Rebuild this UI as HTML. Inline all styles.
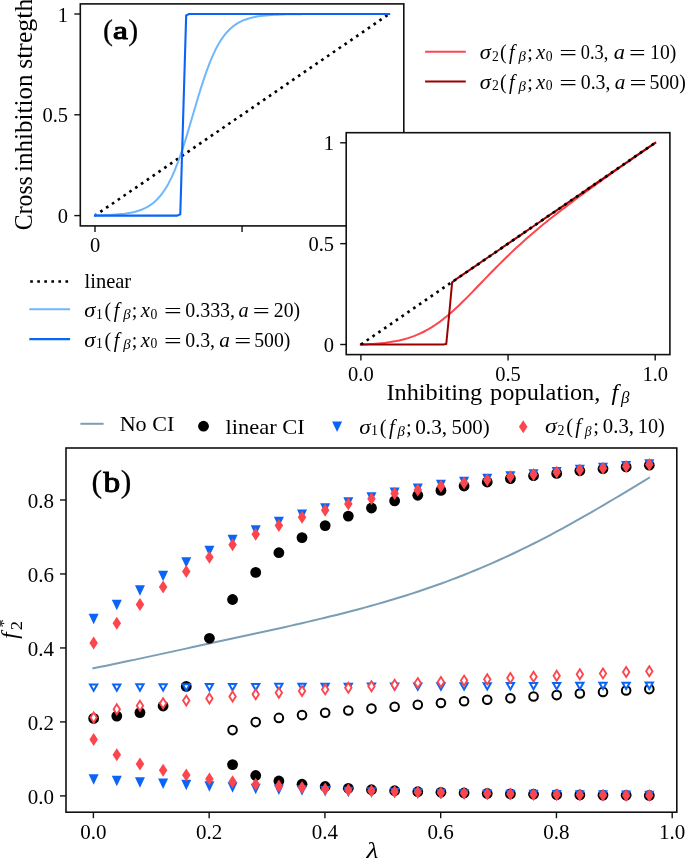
<!DOCTYPE html>
<html><head><meta charset="utf-8"><style>
html,body{margin:0;padding:0;background:#fff;overflow:hidden}
svg{display:block;will-change:transform}
text{font-family:"Liberation Serif", serif;fill:#000;font-kerning:none}
</style></head><body>
<svg width="685" height="858" viewBox="0 0 685 858">
<rect width="685" height="858" fill="#fff"/>
<polyline points="95.00,215.60 389.10,14.00" fill="none" stroke="#000" stroke-dashoffset="0.6" stroke-width="2.66" stroke-dasharray="2.66 4.39"/>
<polyline points="95.00,215.34 97.94,215.29 100.88,215.22 103.82,215.13 106.76,215.03 109.70,214.90 112.65,214.75 115.59,214.56 118.53,214.33 121.47,214.05 124.41,213.71 127.35,213.30 130.29,212.79 133.23,212.18 136.17,211.44 139.12,210.54 142.06,209.46 145.00,208.15 147.94,206.57 150.88,204.68 153.82,202.42 156.76,199.73 159.70,196.55 162.64,192.81 165.58,188.44 168.53,183.39 171.47,177.60 174.41,171.05 177.35,163.73 180.29,155.66 183.23,146.91 186.17,137.58 189.11,127.83 192.05,117.82 194.99,107.76 197.94,97.83 200.88,88.23 203.82,79.12 206.76,70.63 209.70,62.85 212.64,55.83 215.58,49.59 218.52,44.10 221.46,39.33 224.40,35.22 227.35,31.71 230.29,28.74 233.23,26.23 236.17,24.12 239.11,22.36 242.05,20.90 244.99,19.68 247.93,18.68 250.87,17.85 253.81,17.16 256.75,16.59 259.70,16.13 262.64,15.75 265.58,15.43 268.52,15.17 271.46,14.96 274.40,14.79 277.34,14.65 280.28,14.53 283.22,14.43 286.17,14.36 289.11,14.29 292.05,14.24 294.99,14.20 297.93,14.16 300.87,14.13 303.81,14.11 306.75,14.09 309.69,14.07 312.63,14.06 315.58,14.05 318.52,14.04 321.46,14.03 324.40,14.03 327.34,14.02 330.28,14.02 333.22,14.01 336.16,14.01 339.10,14.01 342.04,14.01 344.99,14.01 347.93,14.01 350.87,14.00 353.81,14.00 356.75,14.00 359.69,14.00 362.63,14.00 365.57,14.00 368.51,14.00 371.45,14.00 374.39,14.00 377.34,14.00 380.28,14.00 383.22,14.00 386.16,14.00 389.10,14.00" fill="none" stroke="#6fb6fc" stroke-width="2" stroke-linejoin="round" stroke-linecap="square"/>
<polyline points="95.00,215.60 97.94,215.60 100.88,215.60 103.82,215.60 106.76,215.60 109.70,215.60 112.65,215.60 115.59,215.60 118.53,215.60 121.47,215.60 124.41,215.60 127.35,215.60 130.29,215.60 133.23,215.60 136.17,215.60 139.12,215.60 142.06,215.60 145.00,215.60 147.94,215.60 150.88,215.60 153.82,215.60 156.76,215.60 159.70,215.60 162.64,215.60 165.58,215.60 168.53,215.60 171.47,215.60 174.41,215.60 177.35,215.59 180.29,214.25 183.23,114.80 186.17,15.35 189.11,14.01 192.05,14.00 194.99,14.00 197.94,14.00 200.88,14.00 203.82,14.00 206.76,14.00 209.70,14.00 212.64,14.00 215.58,14.00 218.52,14.00 221.46,14.00 224.40,14.00 227.35,14.00 230.29,14.00 233.23,14.00 236.17,14.00 239.11,14.00 242.05,14.00 244.99,14.00 247.93,14.00 250.87,14.00 253.81,14.00 256.75,14.00 259.70,14.00 262.64,14.00 265.58,14.00 268.52,14.00 271.46,14.00 274.40,14.00 277.34,14.00 280.28,14.00 283.22,14.00 286.17,14.00 289.11,14.00 292.05,14.00 294.99,14.00 297.93,14.00 300.87,14.00 303.81,14.00 306.75,14.00 309.69,14.00 312.63,14.00 315.58,14.00 318.52,14.00 321.46,14.00 324.40,14.00 327.34,14.00 330.28,14.00 333.22,14.00 336.16,14.00 339.10,14.00 342.04,14.00 344.99,14.00 347.93,14.00 350.87,14.00 353.81,14.00 356.75,14.00 359.69,14.00 362.63,14.00 365.57,14.00 368.51,14.00 371.45,14.00 374.39,14.00 377.34,14.00 380.28,14.00 383.22,14.00 386.16,14.00 389.10,14.00" fill="none" stroke="#0a64f5" stroke-width="2.1" stroke-linejoin="round" stroke-linecap="square"/>
<rect x="80.30" y="3.90" width="323.50" height="222.00" fill="none" stroke="#111" stroke-width="1.60"/>
<line x1="74.30" x2="80.30" y1="215.60" y2="215.60" stroke="#111" stroke-width="1.4"/>
<line x1="74.30" x2="80.30" y1="114.80" y2="114.80" stroke="#111" stroke-width="1.4"/>
<line x1="74.30" x2="80.30" y1="14.00" y2="14.00" stroke="#111" stroke-width="1.4"/>
<line x1="95.00" x2="95.00" y1="225.90" y2="231.90" stroke="#111" stroke-width="1.4"/>
<line x1="242.05" x2="242.05" y1="225.90" y2="231.90" stroke="#111" stroke-width="1.4"/>
<text x="68.00" y="223.20" text-anchor="end" font-size="20.50">0</text>
<text x="68.00" y="122.40" text-anchor="end" font-size="20.50">0.5</text>
<text x="68.00" y="21.60" text-anchor="end" font-size="20.50">1</text>
<text x="95.00" y="252.30" text-anchor="middle" font-size="20.50">0</text>
<text transform="translate(102.89,39.50) scale(1.0000,1)" font-size="29.90" stroke="#000" stroke-width="0.25">(</text>
<text transform="translate(113.03,39.30) scale(1.3366,1)" font-size="25.00" stroke="#000" stroke-width="1.0">a</text>
<text transform="translate(128.24,39.50) scale(1.0000,1)" font-size="29.90" stroke="#000" stroke-width="0.25">)</text>
<text transform="translate(31.80,230.17) rotate(-90) scale(0.9486,1)" font-size="25.00">Cross</text>
<text transform="translate(31.80,171.93) rotate(-90) scale(1.0028,1)" font-size="25.00">inhibition</text>
<text transform="translate(31.80,68.86) rotate(-90) scale(1.0317,1)" font-size="25.00">stregth</text>
<line x1="29.3" x2="70.1" y1="281.5" y2="281.5" stroke="#000" stroke-dashoffset="-0.9" stroke-width="2.66" stroke-dasharray="2.66 4.39"/>
<line x1="29.3" x2="70.1" y1="309.3" y2="309.3" stroke="#6fb6fc" stroke-width="2"/>
<line x1="29.3" x2="70.1" y1="339.1" y2="339.1" stroke="#0a64f5" stroke-width="2.1"/>
<text transform="translate(84.49,288.40) scale(1.0104,1)" font-size="20.30">linear</text>
<text transform="translate(84.23,316.90) scale(1.1209,1)" font-size="20.00" font-style="italic">σ</text>
<text transform="translate(96.00,318.50) scale(1.0000,1)" font-size="13.60">1</text>
<text transform="translate(104.52,316.90) scale(1.0000,1)" font-size="20.00">(</text>
<text transform="translate(113.71,316.90) scale(1.0000,1)" font-size="20.00" font-style="italic">f</text>
<text transform="translate(123.14,319.30) scale(1.0900,1)" font-size="13.60" font-style="italic">β</text>
<text transform="translate(131.76,316.90) scale(1.0000,1)" font-size="20.00">;</text>
<text transform="translate(140.65,316.90) scale(1.0363,1)" font-size="20.00" font-style="italic">x</text>
<text transform="translate(150.38,318.50) scale(1.0000,1)" font-size="13.60">0</text>
<text transform="translate(163.94,317.90) scale(1.5688,1)" font-size="20.00">=</text>
<text transform="translate(185.24,316.90) scale(0.9963,1)" font-size="20.00">0.333,</text>
<text transform="translate(238.49,316.90) scale(1.0171,1)" font-size="20.00" font-style="italic">a</text>
<text transform="translate(252.80,317.90) scale(1.5043,1)" font-size="20.00">=</text>
<text transform="translate(273.84,316.90) scale(0.9838,1)" font-size="20.00">20)</text>
<text transform="translate(84.23,346.60) scale(1.1209,1)" font-size="20.00" font-style="italic">σ</text>
<text transform="translate(96.00,348.20) scale(1.0000,1)" font-size="13.60">1</text>
<text transform="translate(104.52,346.60) scale(1.0000,1)" font-size="20.00">(</text>
<text transform="translate(113.71,346.60) scale(1.0000,1)" font-size="20.00" font-style="italic">f</text>
<text transform="translate(123.14,349.00) scale(1.0900,1)" font-size="13.60" font-style="italic">β</text>
<text transform="translate(131.76,346.60) scale(1.0000,1)" font-size="20.00">;</text>
<text transform="translate(140.65,346.60) scale(1.0363,1)" font-size="20.00" font-style="italic">x</text>
<text transform="translate(150.38,348.20) scale(1.0000,1)" font-size="13.60">0</text>
<text transform="translate(163.94,347.60) scale(1.5688,1)" font-size="20.00">=</text>
<text transform="translate(185.35,346.60) scale(0.9900,1)" font-size="20.00">0.3,</text>
<text transform="translate(219.27,346.60) scale(1.0633,1)" font-size="20.00" font-style="italic">a</text>
<text transform="translate(234.20,347.60) scale(1.5043,1)" font-size="20.00">=</text>
<text transform="translate(254.15,346.60) scale(0.9879,1)" font-size="20.00">500)</text>
<line x1="425.1" x2="465.8" y1="51.8" y2="51.8" stroke="#fc464e" stroke-width="2"/>
<line x1="425.1" x2="465.8" y1="81.5" y2="81.5" stroke="#9b0000" stroke-width="2"/>
<text transform="translate(479.63,58.90) scale(1.1209,1)" font-size="20.00" font-style="italic">σ</text>
<text transform="translate(492.00,60.50) scale(1.0000,1)" font-size="13.60">2</text>
<text transform="translate(499.92,58.90) scale(1.0000,1)" font-size="20.00">(</text>
<text transform="translate(509.11,58.90) scale(1.0000,1)" font-size="20.00" font-style="italic">f</text>
<text transform="translate(518.54,61.30) scale(1.0900,1)" font-size="13.60" font-style="italic">β</text>
<text transform="translate(527.16,58.90) scale(1.0000,1)" font-size="20.00">;</text>
<text transform="translate(536.05,58.90) scale(1.0363,1)" font-size="20.00" font-style="italic">x</text>
<text transform="translate(545.78,60.50) scale(1.0000,1)" font-size="13.60">0</text>
<text transform="translate(559.34,59.90) scale(1.5688,1)" font-size="20.00">=</text>
<text transform="translate(580.70,58.90) scale(0.9186,1)" font-size="20.00">0.3,</text>
<text transform="translate(613.63,58.90) scale(1.1211,1)" font-size="20.00" font-style="italic">a</text>
<text transform="translate(628.93,59.90) scale(1.4721,1)" font-size="20.00">=</text>
<text transform="translate(650.07,58.90) scale(0.9824,1)" font-size="20.00">10)</text>
<text transform="translate(479.63,88.60) scale(1.1209,1)" font-size="20.00" font-style="italic">σ</text>
<text transform="translate(492.00,90.20) scale(1.0000,1)" font-size="13.60">2</text>
<text transform="translate(499.92,88.60) scale(1.0000,1)" font-size="20.00">(</text>
<text transform="translate(509.11,88.60) scale(1.0000,1)" font-size="20.00" font-style="italic">f</text>
<text transform="translate(518.54,91.00) scale(1.0900,1)" font-size="13.60" font-style="italic">β</text>
<text transform="translate(527.16,88.60) scale(1.0000,1)" font-size="20.00">;</text>
<text transform="translate(536.05,88.60) scale(1.0363,1)" font-size="20.00" font-style="italic">x</text>
<text transform="translate(545.78,90.20) scale(1.0000,1)" font-size="13.60">0</text>
<text transform="translate(559.34,89.60) scale(1.5688,1)" font-size="20.00">=</text>
<text transform="translate(580.75,88.60) scale(0.9900,1)" font-size="20.00">0.3,</text>
<text transform="translate(614.67,88.60) scale(1.0633,1)" font-size="20.00" font-style="italic">a</text>
<text transform="translate(629.60,89.60) scale(1.5043,1)" font-size="20.00">=</text>
<text transform="translate(649.55,88.60) scale(0.9879,1)" font-size="20.00">500)</text>
<rect x="346.20" y="132.70" width="323.70" height="221.90" fill="#fff" stroke="none"/>
<polyline points="360.90,344.50 363.84,344.39 366.79,344.27 369.73,344.12 372.67,343.94 375.61,343.73 378.56,343.49 381.50,343.21 384.44,342.89 387.39,342.52 390.33,342.10 393.27,341.61 396.22,341.07 399.16,340.45 402.10,339.76 405.04,338.98 407.99,338.12 410.93,337.16 413.87,336.10 416.82,334.93 419.76,333.65 422.70,332.26 425.65,330.74 428.59,329.11 431.53,327.35 434.47,325.46 437.42,323.45 440.36,321.32 443.30,319.08 446.25,316.71 449.19,314.25 452.13,311.67 455.08,309.01 458.02,306.26 460.96,303.44 463.90,300.56 466.85,297.62 469.79,294.63 472.73,291.62 475.68,288.57 478.62,285.52 481.56,282.46 484.51,279.40 487.45,276.34 490.39,273.31 493.33,270.29 496.28,267.30 499.22,264.34 502.16,261.42 505.11,258.53 508.05,255.67 510.99,252.86 513.94,250.08 516.88,247.34 519.82,244.64 522.76,241.98 525.71,239.36 528.65,236.77 531.59,234.22 534.54,231.70 537.48,229.22 540.42,226.77 543.37,224.34 546.31,221.95 549.25,219.58 552.19,217.24 555.14,214.92 558.08,212.62 561.02,210.35 563.97,208.09 566.91,205.85 569.85,203.63 572.80,201.42 575.74,199.23 578.68,197.05 581.62,194.89 584.57,192.73 587.51,190.59 590.45,188.46 593.40,186.33 596.34,184.22 599.28,182.11 602.23,180.01 605.17,177.92 608.11,175.83 611.05,173.75 614.00,171.68 616.94,169.61 619.88,167.54 622.83,165.48 625.77,163.42 628.71,161.36 631.66,159.31 634.60,157.26 637.54,155.22 640.48,153.17 643.43,151.13 646.37,149.09 649.31,147.05 652.26,145.02 655.20,142.98" fill="none" stroke="#fc464e" stroke-width="2" stroke-linejoin="round" stroke-linecap="square"/>
<polyline points="360.90,344.50 363.84,344.50 366.79,344.50 369.73,344.50 372.67,344.50 375.61,344.50 378.56,344.50 381.50,344.50 384.44,344.50 387.39,344.50 390.33,344.50 393.27,344.50 396.22,344.50 399.16,344.50 402.10,344.50 405.04,344.50 407.99,344.50 410.93,344.50 413.87,344.50 416.82,344.50 419.76,344.50 422.70,344.50 425.65,344.50 428.59,344.50 431.53,344.50 434.47,344.50 437.42,344.50 440.36,344.50 443.30,344.50 446.25,344.11 449.19,314.25 452.13,282.39 455.08,279.96 458.02,277.94 460.96,275.92 463.90,273.91 466.85,271.89 469.79,269.87 472.73,267.85 475.68,265.84 478.62,263.82 481.56,261.80 484.51,259.79 487.45,257.77 490.39,255.75 493.33,253.74 496.28,251.72 499.22,249.70 502.16,247.68 505.11,245.67 508.05,243.65 510.99,241.63 513.94,239.62 516.88,237.60 519.82,235.58 522.76,233.56 525.71,231.55 528.65,229.53 531.59,227.51 534.54,225.50 537.48,223.48 540.42,221.46 543.37,219.45 546.31,217.43 549.25,215.41 552.19,213.40 555.14,211.38 558.08,209.36 561.02,207.34 563.97,205.33 566.91,203.31 569.85,201.29 572.80,199.28 575.74,197.26 578.68,195.24 581.62,193.23 584.57,191.21 587.51,189.19 590.45,187.17 593.40,185.16 596.34,183.14 599.28,181.12 602.23,179.11 605.17,177.09 608.11,175.07 611.05,173.06 614.00,171.04 616.94,169.02 619.88,167.00 622.83,164.99 625.77,162.97 628.71,160.95 631.66,158.94 634.60,156.92 637.54,154.90 640.48,152.89 643.43,150.87 646.37,148.85 649.31,146.83 652.26,144.82 655.20,142.80" fill="none" stroke="#9b0000" stroke-width="2" stroke-linejoin="round" stroke-linecap="square"/>
<polyline points="360.90,344.50 655.20,142.80" fill="none" stroke="#000" stroke-width="2.66" stroke-dasharray="2.66 4.39"/>
<rect x="346.20" y="132.70" width="323.70" height="221.90" fill="none" stroke="#111" stroke-width="1.60"/>
<line x1="340.20" x2="346.20" y1="344.50" y2="344.50" stroke="#111" stroke-width="1.4"/>
<text x="334.00" y="352.10" text-anchor="end" font-size="20.50">0</text>
<line x1="340.20" x2="346.20" y1="243.65" y2="243.65" stroke="#111" stroke-width="1.4"/>
<text x="334.00" y="251.25" text-anchor="end" font-size="20.50">0.5</text>
<line x1="340.20" x2="346.20" y1="142.80" y2="142.80" stroke="#111" stroke-width="1.4"/>
<text x="334.00" y="150.40" text-anchor="end" font-size="20.50">1</text>
<line x1="360.90" x2="360.90" y1="354.60" y2="360.60" stroke="#111" stroke-width="1.4"/>
<text x="360.90" y="381.00" text-anchor="middle" font-size="20.50">0.0</text>
<line x1="508.05" x2="508.05" y1="354.60" y2="360.60" stroke="#111" stroke-width="1.4"/>
<text x="508.05" y="381.00" text-anchor="middle" font-size="20.50">0.5</text>
<line x1="655.20" x2="655.20" y1="354.60" y2="360.60" stroke="#111" stroke-width="1.4"/>
<text x="655.20" y="381.00" text-anchor="middle" font-size="20.50">1.0</text>
<text transform="translate(386.42,400.00) scale(1.0082,1)" font-size="24.10">Inhibiting</text>
<text transform="translate(490.11,400.00) scale(1.0112,1)" font-size="24.10">population,</text>
<text transform="translate(611.53,400.00) scale(1.0000,1)" font-size="24.10" font-style="italic">f</text>
<text transform="translate(621.07,402.80) scale(1.0284,1)" font-size="16.50" font-style="italic">β</text>
<polyline points="93.40,668.25 99.19,667.10 104.98,665.93 110.76,664.74 116.55,663.54 122.34,662.33 128.13,661.10 133.92,659.87 139.70,658.63 145.49,657.39 151.28,656.14 157.07,654.88 162.86,653.63 168.64,652.38 174.43,651.12 180.22,649.86 186.01,648.61 191.80,647.35 197.58,646.10 203.37,644.85 209.16,643.59 214.95,642.34 220.74,641.09 226.52,639.84 232.31,638.59 238.10,637.34 243.89,636.08 249.68,634.82 255.46,633.56 261.25,632.30 267.04,631.03 272.83,629.75 278.62,628.46 284.40,627.17 290.19,625.86 295.98,624.55 301.77,623.22 307.56,621.88 313.34,620.52 319.13,619.15 324.92,617.75 330.71,616.34 336.50,614.91 342.28,613.45 348.07,611.97 353.86,610.46 359.65,608.92 365.44,607.36 371.22,605.76 377.01,604.14 382.80,602.48 388.59,600.78 394.38,599.05 400.16,597.28 405.95,595.47 411.74,593.62 417.53,591.73 423.32,589.79 429.10,587.81 434.89,585.79 440.68,583.72 446.47,581.60 452.26,579.43 458.04,577.22 463.83,574.95 469.62,572.64 475.41,570.27 481.20,567.85 486.98,565.38 492.77,562.86 498.56,560.28 504.35,557.66 510.14,554.98 515.92,552.25 521.71,549.46 527.50,546.63 533.29,543.74 539.08,540.81 544.86,537.83 550.65,534.79 556.44,531.72 562.23,528.59 568.02,525.43 573.80,522.22 579.59,518.97 585.38,515.68 591.17,512.35 596.96,509.00 602.74,505.61 608.53,502.19 614.32,498.75 620.11,495.28 625.90,491.80 631.68,488.30 637.47,484.80 643.26,481.28 649.05,477.76" fill="none" stroke="#7b9eb4" stroke-width="2" stroke-linejoin="round" stroke-linecap="square"/>
<circle cx="93.65" cy="718.40" r="5.4" fill="#000"/>
<circle cx="116.80" cy="716.10" r="5.4" fill="#000"/>
<circle cx="139.95" cy="712.60" r="5.4" fill="#000"/>
<circle cx="163.11" cy="706.00" r="5.4" fill="#000"/>
<circle cx="186.26" cy="686.40" r="5.4" fill="#000"/>
<circle cx="209.41" cy="638.30" r="5.4" fill="#000"/>
<circle cx="232.56" cy="599.50" r="5.4" fill="#000"/>
<circle cx="255.71" cy="572.40" r="5.4" fill="#000"/>
<circle cx="278.87" cy="552.70" r="5.4" fill="#000"/>
<circle cx="302.02" cy="537.60" r="5.4" fill="#000"/>
<circle cx="325.17" cy="525.60" r="5.4" fill="#000"/>
<circle cx="348.32" cy="516.10" r="5.4" fill="#000"/>
<circle cx="371.47" cy="508.00" r="5.4" fill="#000"/>
<circle cx="394.63" cy="500.90" r="5.4" fill="#000"/>
<circle cx="417.78" cy="495.30" r="5.4" fill="#000"/>
<circle cx="440.93" cy="490.40" r="5.4" fill="#000"/>
<circle cx="464.08" cy="486.00" r="5.4" fill="#000"/>
<circle cx="487.23" cy="482.00" r="5.4" fill="#000"/>
<circle cx="510.39" cy="478.60" r="5.4" fill="#000"/>
<circle cx="533.54" cy="475.70" r="5.4" fill="#000"/>
<circle cx="556.69" cy="473.40" r="5.4" fill="#000"/>
<circle cx="579.84" cy="470.80" r="5.4" fill="#000"/>
<circle cx="602.99" cy="468.70" r="5.4" fill="#000"/>
<circle cx="626.15" cy="466.90" r="5.4" fill="#000"/>
<circle cx="649.30" cy="465.20" r="5.4" fill="#000"/>
<circle cx="232.56" cy="764.60" r="5.4" fill="#000"/>
<circle cx="255.71" cy="775.50" r="5.4" fill="#000"/>
<circle cx="278.87" cy="781.00" r="5.4" fill="#000"/>
<circle cx="302.02" cy="784.20" r="5.4" fill="#000"/>
<circle cx="325.17" cy="786.50" r="5.4" fill="#000"/>
<circle cx="348.32" cy="788.30" r="5.4" fill="#000"/>
<circle cx="371.47" cy="789.70" r="5.4" fill="#000"/>
<circle cx="394.63" cy="790.70" r="5.4" fill="#000"/>
<circle cx="417.78" cy="791.70" r="5.4" fill="#000"/>
<circle cx="440.93" cy="792.30" r="5.4" fill="#000"/>
<circle cx="464.08" cy="793.00" r="5.4" fill="#000"/>
<circle cx="487.23" cy="793.50" r="5.4" fill="#000"/>
<circle cx="510.39" cy="793.90" r="5.4" fill="#000"/>
<circle cx="533.54" cy="794.20" r="5.4" fill="#000"/>
<circle cx="556.69" cy="794.60" r="5.4" fill="#000"/>
<circle cx="579.84" cy="794.90" r="5.4" fill="#000"/>
<circle cx="602.99" cy="795.10" r="5.4" fill="#000"/>
<circle cx="626.15" cy="795.30" r="5.4" fill="#000"/>
<circle cx="649.30" cy="795.50" r="5.4" fill="#000"/>
<circle cx="232.56" cy="730.10" r="4.3" fill="#fff" stroke="#000" stroke-width="2"/>
<circle cx="255.71" cy="722.10" r="4.3" fill="#fff" stroke="#000" stroke-width="2"/>
<circle cx="278.87" cy="717.90" r="4.3" fill="#fff" stroke="#000" stroke-width="2"/>
<circle cx="302.02" cy="715.10" r="4.3" fill="#fff" stroke="#000" stroke-width="2"/>
<circle cx="325.17" cy="712.80" r="4.3" fill="#fff" stroke="#000" stroke-width="2"/>
<circle cx="348.32" cy="710.50" r="4.3" fill="#fff" stroke="#000" stroke-width="2"/>
<circle cx="371.47" cy="708.60" r="4.3" fill="#fff" stroke="#000" stroke-width="2"/>
<circle cx="394.63" cy="706.70" r="4.3" fill="#fff" stroke="#000" stroke-width="2"/>
<circle cx="417.78" cy="704.80" r="4.3" fill="#fff" stroke="#000" stroke-width="2"/>
<circle cx="440.93" cy="703.00" r="4.3" fill="#fff" stroke="#000" stroke-width="2"/>
<circle cx="464.08" cy="701.30" r="4.3" fill="#fff" stroke="#000" stroke-width="2"/>
<circle cx="487.23" cy="699.70" r="4.3" fill="#fff" stroke="#000" stroke-width="2"/>
<circle cx="510.39" cy="698.20" r="4.3" fill="#fff" stroke="#000" stroke-width="2"/>
<circle cx="533.54" cy="696.50" r="4.3" fill="#fff" stroke="#000" stroke-width="2"/>
<circle cx="556.69" cy="695.10" r="4.3" fill="#fff" stroke="#000" stroke-width="2"/>
<circle cx="579.84" cy="693.50" r="4.3" fill="#fff" stroke="#000" stroke-width="2"/>
<circle cx="602.99" cy="691.90" r="4.3" fill="#fff" stroke="#000" stroke-width="2"/>
<circle cx="626.15" cy="690.50" r="4.3" fill="#fff" stroke="#000" stroke-width="2"/>
<circle cx="649.30" cy="689.10" r="4.3" fill="#fff" stroke="#000" stroke-width="2"/>
<polygon points="88.65,613.85 98.65,613.85 93.65,624.35" fill="#0a64f5"/>
<polygon points="111.80,599.65 121.80,599.65 116.80,610.15" fill="#0a64f5"/>
<polygon points="134.95,585.15 144.95,585.15 139.95,595.65" fill="#0a64f5"/>
<polygon points="158.11,570.65 168.11,570.65 163.11,581.15" fill="#0a64f5"/>
<polygon points="181.26,557.35 191.26,557.35 186.26,567.85" fill="#0a64f5"/>
<polygon points="204.41,545.65 214.41,545.65 209.41,556.15" fill="#0a64f5"/>
<polygon points="227.56,534.75 237.56,534.75 232.56,545.25" fill="#0a64f5"/>
<polygon points="250.71,525.25 260.71,525.25 255.71,535.75" fill="#0a64f5"/>
<polygon points="273.87,516.85 283.87,516.85 278.87,527.35" fill="#0a64f5"/>
<polygon points="297.02,509.45 307.02,509.45 302.02,519.95" fill="#0a64f5"/>
<polygon points="320.17,503.15 330.17,503.15 325.17,513.65" fill="#0a64f5"/>
<polygon points="343.32,497.25 353.32,497.25 348.32,507.75" fill="#0a64f5"/>
<polygon points="366.47,492.35 376.47,492.35 371.47,502.85" fill="#0a64f5"/>
<polygon points="389.63,487.45 399.63,487.45 394.63,497.95" fill="#0a64f5"/>
<polygon points="412.78,483.55 422.78,483.55 417.78,494.05" fill="#0a64f5"/>
<polygon points="435.93,479.75 445.93,479.75 440.93,490.25" fill="#0a64f5"/>
<polygon points="459.08,476.75 469.08,476.75 464.08,487.25" fill="#0a64f5"/>
<polygon points="482.23,473.75 492.23,473.75 487.23,484.25" fill="#0a64f5"/>
<polygon points="505.39,471.35 515.39,471.35 510.39,481.85" fill="#0a64f5"/>
<polygon points="528.54,469.35 538.54,469.35 533.54,479.85" fill="#0a64f5"/>
<polygon points="551.69,466.95 561.69,466.95 556.69,477.45" fill="#0a64f5"/>
<polygon points="574.84,464.65 584.84,464.65 579.84,475.15" fill="#0a64f5"/>
<polygon points="597.99,462.75 607.99,462.75 602.99,473.25" fill="#0a64f5"/>
<polygon points="621.15,460.95 631.15,460.95 626.15,471.45" fill="#0a64f5"/>
<polygon points="644.30,459.25 654.30,459.25 649.30,469.75" fill="#0a64f5"/>
<polygon points="88.65,774.15 98.65,774.15 93.65,784.65" fill="#0a64f5"/>
<polygon points="111.80,775.65 121.80,775.65 116.80,786.15" fill="#0a64f5"/>
<polygon points="134.95,777.15 144.95,777.15 139.95,787.65" fill="#0a64f5"/>
<polygon points="158.11,778.45 168.11,778.45 163.11,788.95" fill="#0a64f5"/>
<polygon points="181.26,779.85 191.26,779.85 186.26,790.35" fill="#0a64f5"/>
<polygon points="204.41,781.15 214.41,781.15 209.41,791.65" fill="#0a64f5"/>
<polygon points="227.56,782.25 237.56,782.25 232.56,792.75" fill="#0a64f5"/>
<polygon points="250.71,783.75 260.71,783.75 255.71,794.25" fill="#0a64f5"/>
<polygon points="273.87,784.55 283.87,784.55 278.87,795.05" fill="#0a64f5"/>
<polygon points="297.02,785.35 307.02,785.35 302.02,795.85" fill="#0a64f5"/>
<polygon points="320.17,786.05 330.17,786.05 325.17,796.55" fill="#0a64f5"/>
<polygon points="343.32,786.65 353.32,786.65 348.32,797.15" fill="#0a64f5"/>
<polygon points="366.47,787.25 376.47,787.25 371.47,797.75" fill="#0a64f5"/>
<polygon points="389.63,787.85 399.63,787.85 394.63,798.35" fill="#0a64f5"/>
<polygon points="412.78,788.35 422.78,788.35 417.78,798.85" fill="#0a64f5"/>
<polygon points="435.93,788.85 445.93,788.85 440.93,799.35" fill="#0a64f5"/>
<polygon points="459.08,789.15 469.08,789.15 464.08,799.65" fill="#0a64f5"/>
<polygon points="482.23,789.45 492.23,789.45 487.23,799.95" fill="#0a64f5"/>
<polygon points="505.39,789.65 515.39,789.65 510.39,800.15" fill="#0a64f5"/>
<polygon points="528.54,789.85 538.54,789.85 533.54,800.35" fill="#0a64f5"/>
<polygon points="551.69,789.95 561.69,789.95 556.69,800.45" fill="#0a64f5"/>
<polygon points="574.84,790.15 584.84,790.15 579.84,800.65" fill="#0a64f5"/>
<polygon points="597.99,790.35 607.99,790.35 602.99,800.85" fill="#0a64f5"/>
<polygon points="621.15,790.55 631.15,790.55 626.15,801.05" fill="#0a64f5"/>
<polygon points="644.30,790.65 654.30,790.65 649.30,801.15" fill="#0a64f5"/>
<polygon points="90.05,684.50 97.25,684.50 93.65,690.80" fill="#fff" stroke="#0a64f5" stroke-width="2" stroke-linejoin="miter"/>
<polygon points="113.20,684.42 120.40,684.42 116.80,690.72" fill="#fff" stroke="#0a64f5" stroke-width="2" stroke-linejoin="miter"/>
<polygon points="136.35,684.34 143.55,684.34 139.95,690.64" fill="#fff" stroke="#0a64f5" stroke-width="2" stroke-linejoin="miter"/>
<polygon points="159.51,684.26 166.71,684.26 163.11,690.56" fill="#fff" stroke="#0a64f5" stroke-width="2" stroke-linejoin="miter"/>
<polygon points="182.66,684.18 189.86,684.18 186.26,690.48" fill="#fff" stroke="#0a64f5" stroke-width="2" stroke-linejoin="miter"/>
<polygon points="205.81,684.10 213.01,684.10 209.41,690.40" fill="#fff" stroke="#0a64f5" stroke-width="2" stroke-linejoin="miter"/>
<polygon points="228.96,684.02 236.16,684.02 232.56,690.33" fill="#fff" stroke="#0a64f5" stroke-width="2" stroke-linejoin="miter"/>
<polygon points="252.11,683.95 259.31,683.95 255.71,690.25" fill="#fff" stroke="#0a64f5" stroke-width="2" stroke-linejoin="miter"/>
<polygon points="275.27,683.87 282.47,683.87 278.87,690.17" fill="#fff" stroke="#0a64f5" stroke-width="2" stroke-linejoin="miter"/>
<polygon points="298.42,683.79 305.62,683.79 302.02,690.09" fill="#fff" stroke="#0a64f5" stroke-width="2" stroke-linejoin="miter"/>
<polygon points="321.57,683.71 328.77,683.71 325.17,690.01" fill="#fff" stroke="#0a64f5" stroke-width="2" stroke-linejoin="miter"/>
<polygon points="344.72,683.63 351.92,683.63 348.32,689.93" fill="#fff" stroke="#0a64f5" stroke-width="2" stroke-linejoin="miter"/>
<polygon points="367.87,683.55 375.07,683.55 371.47,689.85" fill="#fff" stroke="#0a64f5" stroke-width="2" stroke-linejoin="miter"/>
<polygon points="391.03,683.47 398.23,683.47 394.63,689.77" fill="#fff" stroke="#0a64f5" stroke-width="2" stroke-linejoin="miter"/>
<polygon points="414.18,683.39 421.38,683.39 417.78,689.69" fill="#fff" stroke="#0a64f5" stroke-width="2" stroke-linejoin="miter"/>
<polygon points="437.33,683.31 444.53,683.31 440.93,689.61" fill="#fff" stroke="#0a64f5" stroke-width="2" stroke-linejoin="miter"/>
<polygon points="460.48,683.23 467.68,683.23 464.08,689.53" fill="#fff" stroke="#0a64f5" stroke-width="2" stroke-linejoin="miter"/>
<polygon points="483.63,683.15 490.83,683.15 487.23,689.45" fill="#fff" stroke="#0a64f5" stroke-width="2" stroke-linejoin="miter"/>
<polygon points="506.79,683.07 513.99,683.07 510.39,689.38" fill="#fff" stroke="#0a64f5" stroke-width="2" stroke-linejoin="miter"/>
<polygon points="529.94,683.00 537.14,683.00 533.54,689.30" fill="#fff" stroke="#0a64f5" stroke-width="2" stroke-linejoin="miter"/>
<polygon points="553.09,682.92 560.29,682.92 556.69,689.22" fill="#fff" stroke="#0a64f5" stroke-width="2" stroke-linejoin="miter"/>
<polygon points="576.24,682.84 583.44,682.84 579.84,689.14" fill="#fff" stroke="#0a64f5" stroke-width="2" stroke-linejoin="miter"/>
<polygon points="599.39,682.76 606.59,682.76 602.99,689.06" fill="#fff" stroke="#0a64f5" stroke-width="2" stroke-linejoin="miter"/>
<polygon points="622.55,682.68 629.75,682.68 626.15,688.98" fill="#fff" stroke="#0a64f5" stroke-width="2" stroke-linejoin="miter"/>
<polygon points="645.70,682.60 652.90,682.60 649.30,688.90" fill="#fff" stroke="#0a64f5" stroke-width="2" stroke-linejoin="miter"/>
<polygon points="93.65,636.60 97.90,643.10 93.65,649.60 89.40,643.10" fill="#fc464e"/>
<polygon points="116.80,616.70 121.05,623.20 116.80,629.70 112.55,623.20" fill="#fc464e"/>
<polygon points="139.95,598.00 144.20,604.50 139.95,611.00 135.70,604.50" fill="#fc464e"/>
<polygon points="163.11,580.50 167.36,587.00 163.11,593.50 158.86,587.00" fill="#fc464e"/>
<polygon points="186.26,565.00 190.51,571.50 186.26,578.00 182.01,571.50" fill="#fc464e"/>
<polygon points="209.41,550.70 213.66,557.20 209.41,563.70 205.16,557.20" fill="#fc464e"/>
<polygon points="232.56,538.30 236.81,544.80 232.56,551.30 228.31,544.80" fill="#fc464e"/>
<polygon points="255.71,527.80 259.96,534.30 255.71,540.80 251.46,534.30" fill="#fc464e"/>
<polygon points="278.87,519.10 283.12,525.60 278.87,532.10 274.62,525.60" fill="#fc464e"/>
<polygon points="302.02,510.70 306.27,517.20 302.02,523.70 297.77,517.20" fill="#fc464e"/>
<polygon points="325.17,503.70 329.42,510.20 325.17,516.70 320.92,510.20" fill="#fc464e"/>
<polygon points="348.32,497.40 352.57,503.90 348.32,510.40 344.07,503.90" fill="#fc464e"/>
<polygon points="371.47,492.30 375.72,498.80 371.47,505.30 367.22,498.80" fill="#fc464e"/>
<polygon points="394.63,486.90 398.88,493.40 394.63,499.90 390.38,493.40" fill="#fc464e"/>
<polygon points="417.78,483.40 422.03,489.90 417.78,496.40 413.53,489.90" fill="#fc464e"/>
<polygon points="440.93,479.70 445.18,486.20 440.93,492.70 436.68,486.20" fill="#fc464e"/>
<polygon points="464.08,476.40 468.33,482.90 464.08,489.40 459.83,482.90" fill="#fc464e"/>
<polygon points="487.23,473.40 491.48,479.90 487.23,486.40 482.98,479.90" fill="#fc464e"/>
<polygon points="510.39,470.30 514.64,476.80 510.39,483.30 506.14,476.80" fill="#fc464e"/>
<polygon points="533.54,468.10 537.79,474.60 533.54,481.10 529.29,474.60" fill="#fc464e"/>
<polygon points="556.69,465.70 560.94,472.20 556.69,478.70 552.44,472.20" fill="#fc464e"/>
<polygon points="579.84,463.40 584.09,469.90 579.84,476.40 575.59,469.90" fill="#fc464e"/>
<polygon points="602.99,461.80 607.24,468.30 602.99,474.80 598.74,468.30" fill="#fc464e"/>
<polygon points="626.15,459.90 630.40,466.40 626.15,472.90 621.90,466.40" fill="#fc464e"/>
<polygon points="649.30,458.00 653.55,464.50 649.30,471.00 645.05,464.50" fill="#fc464e"/>
<polygon points="93.65,732.90 97.90,739.40 93.65,745.90 89.40,739.40" fill="#fc464e"/>
<polygon points="116.80,748.30 121.05,754.80 116.80,761.30 112.55,754.80" fill="#fc464e"/>
<polygon points="139.95,757.50 144.20,764.00 139.95,770.50 135.70,764.00" fill="#fc464e"/>
<polygon points="163.11,763.80 167.36,770.30 163.11,776.80 158.86,770.30" fill="#fc464e"/>
<polygon points="186.26,768.40 190.51,774.90 186.26,781.40 182.01,774.90" fill="#fc464e"/>
<polygon points="209.41,772.60 213.66,779.10 209.41,785.60 205.16,779.10" fill="#fc464e"/>
<polygon points="232.56,775.30 236.81,781.80 232.56,788.30 228.31,781.80" fill="#fc464e"/>
<polygon points="255.71,777.70 259.96,784.20 255.71,790.70 251.46,784.20" fill="#fc464e"/>
<polygon points="278.87,779.50 283.12,786.00 278.87,792.50 274.62,786.00" fill="#fc464e"/>
<polygon points="302.02,780.90 306.27,787.40 302.02,793.90 297.77,787.40" fill="#fc464e"/>
<polygon points="325.17,782.40 329.42,788.90 325.17,795.40 320.92,788.90" fill="#fc464e"/>
<polygon points="348.32,783.50 352.57,790.00 348.32,796.50 344.07,790.00" fill="#fc464e"/>
<polygon points="371.47,784.50 375.72,791.00 371.47,797.50 367.22,791.00" fill="#fc464e"/>
<polygon points="394.63,785.30 398.88,791.80 394.63,798.30 390.38,791.80" fill="#fc464e"/>
<polygon points="417.78,785.80 422.03,792.30 417.78,798.80 413.53,792.30" fill="#fc464e"/>
<polygon points="440.93,786.30 445.18,792.80 440.93,799.30 436.68,792.80" fill="#fc464e"/>
<polygon points="464.08,786.80 468.33,793.30 464.08,799.80 459.83,793.30" fill="#fc464e"/>
<polygon points="487.23,787.20 491.48,793.70 487.23,800.20 482.98,793.70" fill="#fc464e"/>
<polygon points="510.39,787.60 514.64,794.10 510.39,800.60 506.14,794.10" fill="#fc464e"/>
<polygon points="533.54,788.00 537.79,794.50 533.54,801.00 529.29,794.50" fill="#fc464e"/>
<polygon points="556.69,788.30 560.94,794.80 556.69,801.30 552.44,794.80" fill="#fc464e"/>
<polygon points="579.84,788.50 584.09,795.00 579.84,801.50 575.59,795.00" fill="#fc464e"/>
<polygon points="602.99,788.70 607.24,795.20 602.99,801.70 598.74,795.20" fill="#fc464e"/>
<polygon points="626.15,788.90 630.40,795.40 626.15,801.90 621.90,795.40" fill="#fc464e"/>
<polygon points="649.30,789.10 653.55,795.60 649.30,802.10 645.05,795.60" fill="#fc464e"/>
<polygon points="93.65,712.50 96.85,717.50 93.65,722.50 90.45,717.50" fill="#fff" stroke="#fc464e" stroke-width="1.85" stroke-miterlimit="10"/>
<polygon points="116.80,704.30 120.00,709.30 116.80,714.30 113.60,709.30" fill="#fff" stroke="#fc464e" stroke-width="1.85" stroke-miterlimit="10"/>
<polygon points="139.95,700.80 143.15,705.80 139.95,710.80 136.75,705.80" fill="#fff" stroke="#fc464e" stroke-width="1.85" stroke-miterlimit="10"/>
<polygon points="163.11,698.20 166.31,703.20 163.11,708.20 159.91,703.20" fill="#fff" stroke="#fc464e" stroke-width="1.85" stroke-miterlimit="10"/>
<polygon points="186.26,695.60 189.46,700.60 186.26,705.60 183.06,700.60" fill="#fff" stroke="#fc464e" stroke-width="1.85" stroke-miterlimit="10"/>
<polygon points="209.41,693.50 212.61,698.50 209.41,703.50 206.21,698.50" fill="#fff" stroke="#fc464e" stroke-width="1.85" stroke-miterlimit="10"/>
<polygon points="232.56,691.50 235.76,696.50 232.56,701.50 229.36,696.50" fill="#fff" stroke="#fc464e" stroke-width="1.85" stroke-miterlimit="10"/>
<polygon points="255.71,689.30 258.91,694.30 255.71,699.30 252.51,694.30" fill="#fff" stroke="#fc464e" stroke-width="1.85" stroke-miterlimit="10"/>
<polygon points="278.87,687.70 282.07,692.70 278.87,697.70 275.67,692.70" fill="#fff" stroke="#fc464e" stroke-width="1.85" stroke-miterlimit="10"/>
<polygon points="302.02,686.10 305.22,691.10 302.02,696.10 298.82,691.10" fill="#fff" stroke="#fc464e" stroke-width="1.85" stroke-miterlimit="10"/>
<polygon points="325.17,684.40 328.37,689.40 325.17,694.40 321.97,689.40" fill="#fff" stroke="#fc464e" stroke-width="1.85" stroke-miterlimit="10"/>
<polygon points="348.32,682.80 351.52,687.80 348.32,692.80 345.12,687.80" fill="#fff" stroke="#fc464e" stroke-width="1.85" stroke-miterlimit="10"/>
<polygon points="371.47,681.20 374.67,686.20 371.47,691.20 368.27,686.20" fill="#fff" stroke="#fc464e" stroke-width="1.85" stroke-miterlimit="10"/>
<polygon points="394.63,679.80 397.83,684.80 394.63,689.80 391.43,684.80" fill="#fff" stroke="#fc464e" stroke-width="1.85" stroke-miterlimit="10"/>
<polygon points="417.78,678.10 420.98,683.10 417.78,688.10 414.58,683.10" fill="#fff" stroke="#fc464e" stroke-width="1.85" stroke-miterlimit="10"/>
<polygon points="440.93,677.00 444.13,682.00 440.93,687.00 437.73,682.00" fill="#fff" stroke="#fc464e" stroke-width="1.85" stroke-miterlimit="10"/>
<polygon points="464.08,675.60 467.28,680.60 464.08,685.60 460.88,680.60" fill="#fff" stroke="#fc464e" stroke-width="1.85" stroke-miterlimit="10"/>
<polygon points="487.23,674.20 490.43,679.20 487.23,684.20 484.03,679.20" fill="#fff" stroke="#fc464e" stroke-width="1.85" stroke-miterlimit="10"/>
<polygon points="510.39,672.90 513.59,677.90 510.39,682.90 507.19,677.90" fill="#fff" stroke="#fc464e" stroke-width="1.85" stroke-miterlimit="10"/>
<polygon points="533.54,671.70 536.74,676.70 533.54,681.70 530.34,676.70" fill="#fff" stroke="#fc464e" stroke-width="1.85" stroke-miterlimit="10"/>
<polygon points="556.69,670.70 559.89,675.70 556.69,680.70 553.49,675.70" fill="#fff" stroke="#fc464e" stroke-width="1.85" stroke-miterlimit="10"/>
<polygon points="579.84,669.30 583.04,674.30 579.84,679.30 576.64,674.30" fill="#fff" stroke="#fc464e" stroke-width="1.85" stroke-miterlimit="10"/>
<polygon points="602.99,668.40 606.19,673.40 602.99,678.40 599.79,673.40" fill="#fff" stroke="#fc464e" stroke-width="1.85" stroke-miterlimit="10"/>
<polygon points="626.15,667.00 629.35,672.00 626.15,677.00 622.95,672.00" fill="#fff" stroke="#fc464e" stroke-width="1.85" stroke-miterlimit="10"/>
<polygon points="649.30,666.30 652.50,671.30 649.30,676.30 646.10,671.30" fill="#fff" stroke="#fc464e" stroke-width="1.85" stroke-miterlimit="10"/>
<rect x="66.00" y="448.00" width="610.80" height="364.20" fill="none" stroke="#111" stroke-width="1.60"/>
<line x1="60.00" x2="66.00" y1="795.90" y2="795.90" stroke="#111" stroke-width="1.4"/>
<text x="54.00" y="803.70" text-anchor="end" font-size="21.00">0.0</text>
<line x1="60.00" x2="66.00" y1="721.92" y2="721.92" stroke="#111" stroke-width="1.4"/>
<text x="54.00" y="729.72" text-anchor="end" font-size="21.00">0.2</text>
<line x1="60.00" x2="66.00" y1="647.94" y2="647.94" stroke="#111" stroke-width="1.4"/>
<text x="54.00" y="655.74" text-anchor="end" font-size="21.00">0.4</text>
<line x1="60.00" x2="66.00" y1="573.96" y2="573.96" stroke="#111" stroke-width="1.4"/>
<text x="54.00" y="581.76" text-anchor="end" font-size="21.00">0.6</text>
<line x1="60.00" x2="66.00" y1="499.98" y2="499.98" stroke="#111" stroke-width="1.4"/>
<text x="54.00" y="507.78" text-anchor="end" font-size="21.00">0.8</text>
<line x1="93.40" x2="93.40" y1="812.20" y2="818.20" stroke="#111" stroke-width="1.4"/>
<text x="93.40" y="838.60" text-anchor="middle" font-size="21.00">0.0</text>
<line x1="209.16" x2="209.16" y1="812.20" y2="818.20" stroke="#111" stroke-width="1.4"/>
<text x="209.16" y="838.60" text-anchor="middle" font-size="21.00">0.2</text>
<line x1="324.92" x2="324.92" y1="812.20" y2="818.20" stroke="#111" stroke-width="1.4"/>
<text x="324.92" y="838.60" text-anchor="middle" font-size="21.00">0.4</text>
<line x1="440.68" x2="440.68" y1="812.20" y2="818.20" stroke="#111" stroke-width="1.4"/>
<text x="440.68" y="838.60" text-anchor="middle" font-size="21.00">0.6</text>
<line x1="556.44" x2="556.44" y1="812.20" y2="818.20" stroke="#111" stroke-width="1.4"/>
<text x="556.44" y="838.60" text-anchor="middle" font-size="21.00">0.8</text>
<line x1="672.20" x2="672.20" y1="812.20" y2="818.20" stroke="#111" stroke-width="1.4"/>
<text x="672.20" y="838.60" text-anchor="middle" font-size="21.00">1.0</text>
<text transform="translate(91.50,492.20) scale(1.0000,1)" font-size="31.90" stroke="#000" stroke-width="0.25">(</text>
<text transform="translate(103.40,491.60) scale(1.1617,1)" font-size="28.70" stroke="#000" stroke-width="1.0">b</text>
<text transform="translate(120.77,492.20) scale(1.0000,1)" font-size="31.90" stroke="#000" stroke-width="0.25">)</text>
<text transform="translate(366.47,857.50) scale(1.1960,1)" font-size="23.00" font-style="italic">λ</text>
<text transform="translate(16.50,638.65) rotate(-90) scale(1.0000,1)" font-size="23.00" font-style="italic">f</text>
<text transform="translate(21.90,630.22) rotate(-90) scale(1.1693,1)" font-size="16.00">2</text>
<text transform="translate(8.50,627.40) rotate(-90) scale(1.0228,1)" font-size="16.00">*</text>
<line x1="80.4" x2="103.6" y1="423.8" y2="423.8" stroke="#7b9eb4" stroke-width="2"/>
<text transform="translate(119.66,431.00) scale(1.0041,1)" font-size="22.00">No CI</text>
<circle cx="203.50" cy="426.20" r="5.4" fill="#000"/>
<text transform="translate(225.45,433.90) scale(1.0240,1)" font-size="22.00">linear CI</text>
<polygon points="332.10,421.45 342.10,421.45 337.10,431.95" fill="#0a64f5"/>
<polygon points="523.20,420.20 527.45,426.70 523.20,433.20 518.95,426.70" fill="#fc464e"/>
<text transform="translate(359.21,433.60) scale(1.1275,1)" font-size="20.60" font-style="italic">σ</text>
<text transform="translate(371.07,435.20) scale(1.0000,1)" font-size="14.00">1</text>
<text transform="translate(379.79,433.60) scale(1.0000,1)" font-size="20.60">(</text>
<text transform="translate(388.99,433.60) scale(1.0000,1)" font-size="20.60" font-style="italic">f</text>
<text transform="translate(397.54,436.00) scale(1.0588,1)" font-size="14.00" font-style="italic">β</text>
<text transform="translate(405.93,433.60) scale(1.0000,1)" font-size="20.60">;</text>
<text transform="translate(415.19,433.60) scale(1.0341,1)" font-size="20.60">0.3,</text>
<text transform="translate(451.49,433.60) scale(1.0124,1)" font-size="20.60">500)</text>
<text transform="translate(544.99,433.40) scale(1.1569,1)" font-size="20.60" font-style="italic">σ</text>
<text transform="translate(557.38,435.00) scale(1.0000,1)" font-size="14.00">2</text>
<text transform="translate(566.19,433.40) scale(1.0000,1)" font-size="20.60">(</text>
<text transform="translate(575.34,433.40) scale(1.0000,1)" font-size="20.60" font-style="italic">f</text>
<text transform="translate(584.82,435.80) scale(0.9752,1)" font-size="14.00" font-style="italic">β</text>
<text transform="translate(593.33,433.40) scale(1.0000,1)" font-size="20.60">;</text>
<text transform="translate(602.81,433.40) scale(1.0098,1)" font-size="20.60">0.3,</text>
<text transform="translate(637.82,433.40) scale(0.9821,1)" font-size="20.60">10)</text>
</svg>
</body></html>
